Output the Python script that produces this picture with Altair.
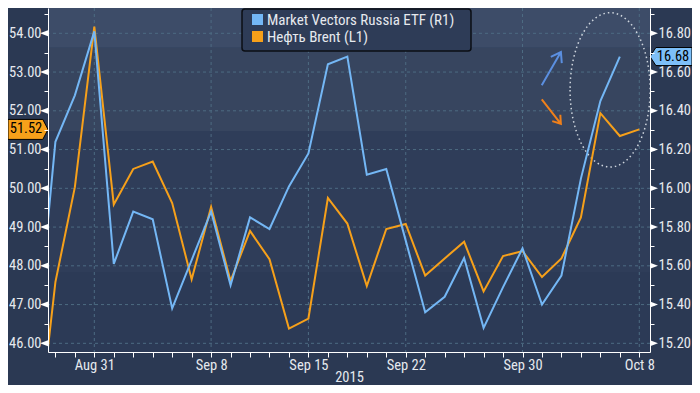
import altair as alt
import pandas as pd

# ---------------- data ----------------
dates = ["Aug 26", "Aug 27", "Aug 28", "Aug 31", "Sep 1", "Sep 2", "Sep 3", "Sep 4",
         "Sep 7", "Sep 8", "Sep 9", "Sep 10", "Sep 11", "Sep 14", "Sep 15", "Sep 16",
         "Sep 17", "Sep 18", "Sep 21", "Sep 22", "Sep 23", "Sep 24", "Sep 25", "Sep 28",
         "Sep 29", "Sep 30", "Oct 1", "Oct 2", "Oct 5", "Oct 6", "Oct 7", "Oct 8"]
brent = [43.14, 47.58, 50.03, 54.17, 49.58, 50.50, 50.69, 49.62, 47.65, 49.52, 47.61,
         48.90, 48.17, 46.38, 46.64, 49.75, 49.09, 47.48, 48.95, 49.08, 47.75, 48.19,
         48.62, 47.34, 48.25, 48.38, 47.71, 48.19, 49.25, 51.94, 51.35, 51.52]
rsx = [15.18, 16.24, 16.48, 16.81, 15.61, 15.88, 15.84, 15.38, 15.63, 15.88, 15.50,
       15.85, 15.79, 16.01, 16.18, 16.64, 16.68, 16.07, 16.10, 15.73, 15.36, 15.44,
       15.64, 15.28, 15.49, 15.69, 15.40, 15.55, 16.05, 16.45, 16.68, None]
series_names = ["Market Vectors Russia ETF (R1)", "Нефть Brent (L1)"]
x_labels = ["Aug 31", "Sep 8", "Sep 15", "Sep 22", "Sep 30", "Oct 8"]
year_title = "2015"
left_ticks = [46, 47, 48, 49, 50, 51, 52, 53, 54]
left_minor = [46.5, 47.5, 48.5, 49.5, 50.5, 51.5, 52.5, 53.5, 54.5]
right_ticks = [15.2, 15.4, 15.6, 15.8, 16.0, 16.2, 16.4, 16.6, 16.8]
right_minor = [15.3, 15.5, 15.7, 15.9, 16.1, 16.3, 16.5, 16.7, 16.9]
band_lo = [53.63, 51.48, 47.82, 45.776]
band_hi = [54.653, 53.63, 51.48, 47.82]
band_col = ["#3d4c68", "#37455f", "#2f3d59", "#2c3a56"]

# ---------------- layout / style ----------------
W, H = 602, 344
PAD_L, PAD_R, PAD_B = 40, 42, 33
L_DOM = [45.776, 54.653]
R_DOM = [15.2 + (v - 46) / 5 for v in L_DOM]
X_DOM = [0.62, 31.55]
FONT = "Liberation Sans Narrow, Roboto Condensed, Liberation Sans, sans-serif"
FS_Y = 14.5
FS_X = 14.5
FS_LEG = 15
BG = "#2b3953"
TXT = "#e6e9ee"
BLUE = "#74b7f5"
ORANGE = "#f6a01a"
GRID = "#4d6b82"

idx = list(range(len(dates)))
df = pd.DataFrame({"i": idx, "date": dates, "brent": brent, "rsx": rsx})
df_rsx = df.dropna(subset=["rsx"])
lab_idx = [dates.index(d) for d in x_labels]

xs = alt.Scale(domain=X_DOM, nice=False, zero=False)
ls = alt.Scale(domain=L_DOM, nice=False, zero=False)
rs = alt.Scale(domain=R_DOM, nice=False, zero=False)

lab_expr = " : ".join(f"datum.value == {i} ? '{t}'" for i, t in zip(lab_idx, x_labels)) + " : ''"

x_axis = alt.Axis(values=idx[1:], labelExpr=lab_expr, tickSize=5, tickColor="#ffffff",
                  domainColor="#ffffff", labelColor=TXT, labelFont=FONT, labelFontSize=FS_X,
                  labelPadding=1, labelOverlap=False, labelFlush=False, grid=False,
                  title=year_title, titleColor=TXT, titleFont=FONT, titleFontSize=FS_X,
                  titleFontWeight="normal", titlePadding=-1, zindex=1, orient="bottom")
l_axis = alt.Axis(values=sorted(left_ticks + left_minor),
                  labelExpr="datum.value % 1 == 0 ? format(datum.value, '.2f') : ''",
                  tickSize=4, tickColor="#ffffff", domainColor="#ffffff", labelColor=TXT,
                  labelFont=FONT, labelFontSize=FS_Y, labelPadding=3, grid=False, title=None,
                  labelOverlap=False, zindex=1, orient="left")
r_axis = alt.Axis(values=sorted(right_ticks + right_minor), orient="right",
                  labelExpr="round(datum.value * 10) % 2 == 0 ? format(datum.value, '.2f') : ''",
                  tickSize=4, tickColor="#ffffff", domainColor="#ffffff", labelColor=TXT,
                  labelFont=FONT, labelFontSize=FS_Y, labelPadding=4, grid=False, title=None,
                  labelOverlap=False, zindex=1)

one = pd.DataFrame({"a": [0]})


def xq(field):
    return alt.X(field, scale=xs, axis=x_axis)


# ---------------- left-scale layers ----------------
bands = alt.Chart(pd.DataFrame({"lo": band_lo, "hi": band_hi, "c": band_col})).mark_rect().encode(
    x=alt.value(0), x2=alt.value(W),
    y=alt.Y("hi:Q", scale=ls, axis=None), y2="lo:Q",
    color=alt.Color("c:N", scale=None))

hgrid = alt.Chart(pd.DataFrame({"v": left_ticks})).mark_rule(
    color=GRID, strokeDash=[3, 3], strokeWidth=1).encode(
    y=alt.Y("v:Q", scale=ls, axis=None))

vgrid = alt.Chart(pd.DataFrame({"v": lab_idx})).mark_rule(
    color=GRID, strokeDash=[3, 3], strokeWidth=1).encode(x=xq("v:Q"))

ellipse = alt.Chart(pd.DataFrame({"x": [29.5], "y": [52.54]})).mark_point(
    shape="M-0.519,0 A0.519,1 0 1,0 0.519,0 A0.519,1 0 1,0 -0.519,0 Z",
    size=23800, filled=False, stroke="#cfd6de", strokeWidth=1.5, strokeDash=[1.5, 3],
    opacity=1).encode(x=xq("x:Q"), y=alt.Y("y:Q", scale=ls, axis=None))

arrow_shape = "M0,1 L0,-1 M-0.33,-0.52 L0,-1 L0.33,-0.52"
arrow_up = alt.Chart(pd.DataFrame({"x": [26.48], "y": [53.09]})).mark_point(
    shape=arrow_shape, size=1467, angle=30, filled=False, stroke="#5b8fe0",
    strokeWidth=2, opacity=1).encode(x=xq("x:Q"), y=alt.Y("y:Q", scale=ls, axis=None))
arrow_dn = alt.Chart(pd.DataFrame({"x": [26.48], "y": [51.98]})).mark_point(
    shape=arrow_shape, size=961, angle=142, filled=False, stroke="#f0801a",
    strokeWidth=2, opacity=1).encode(x=xq("x:Q"), y=alt.Y("y:Q", scale=ls, axis=None))

orange_line = alt.Chart(df).mark_line(color=ORANGE, strokeWidth=2, clip=True).encode(
    x=xq("i:Q"), y=alt.Y("brent:Q", scale=ls, axis=l_axis))

l_tri = alt.Chart(pd.DataFrame({"v": left_ticks})).mark_point(
    shape="M-1,0 L1,-0.75 L1,0.75 Z", size=64, filled=True, fill="#ffffff",
    strokeWidth=0, opacity=1).encode(
    x=alt.value(-4), y=alt.Y("v:Q", scale=ls, axis=None))

l_last = pd.DataFrame({"v": [brent[-1]]})
l_badge = alt.Chart(l_last).mark_point(
    shape="M-1,-0.5 L0.74,-0.5 L1,0 L0.74,0.5 L-1,0.5 Z", size=1600,
    filled=True, fill=ORANGE, stroke="#000000", strokeWidth=1, opacity=1).encode(
    x=alt.value(-20), y=alt.Y("v:Q", scale=ls, axis=None))
l_badge_t = alt.Chart(l_last).mark_text(
    font=FONT, fontSize=14.5, color="#000000", align="center", baseline="middle").encode(
    x=alt.value(-22), y=alt.Y("v:Q", scale=ls, axis=None),
    text=alt.Text("v:Q", format=".2f"))

# ---------------- right-scale layers ----------------
blue_line = alt.Chart(df_rsx).mark_line(color=BLUE, strokeWidth=2, clip=True).encode(
    x=xq("i:Q"), y=alt.Y("rsx:Q", scale=rs, axis=r_axis))

r_tri = alt.Chart(pd.DataFrame({"v": right_ticks})).mark_point(
    shape="M1,0 L-1,-0.75 L-1,0.75 Z", size=64, filled=True, fill="#ffffff",
    strokeWidth=0, opacity=1).encode(
    x=alt.value(W + 4), y=alt.Y("v:Q", scale=rs, axis=None))

r_last = pd.DataFrame({"v": [df_rsx["rsx"].iloc[-1]]})
r_badge = alt.Chart(r_last).mark_point(
    shape="M-1,0 L-0.72,-0.43 L1,-0.43 L1,0.43 L-0.72,0.43 Z", size=1764,
    filled=True, fill="#7dbff8", stroke="#000000", strokeWidth=1, opacity=1).encode(
    x=alt.value(W + 21), y=alt.Y("v:Q", scale=rs, axis=None))
r_badge_t = alt.Chart(r_last).mark_text(
    font=FONT, fontSize=14.5, color="#000000", align="center", baseline="middle").encode(
    x=alt.value(W + 23), y=alt.Y("v:Q", scale=rs, axis=None),
    text=alt.Text("v:Q", format=".2f"))

# ---------------- legend ----------------
leg_box = alt.Chart(one).mark_rect(
    fill="#2e3c57", stroke="#0b0e14", strokeWidth=1.5, cornerRadius=3).encode(
    x=alt.value(194), x2=alt.value(423), y=alt.value(1), y2=alt.value(43))
leg_sq1 = alt.Chart(one).mark_rect(fill=BLUE).encode(
    x=alt.value(204), x2=alt.value(215), y=alt.value(6), y2=alt.value(17))
leg_sq2 = alt.Chart(one).mark_rect(fill=ORANGE).encode(
    x=alt.value(204), x2=alt.value(215), y=alt.value(23), y2=alt.value(34))
leg_t1 = alt.Chart(one).mark_text(
    font=FONT, fontSize=FS_LEG, color=TXT, align="left", baseline="middle").encode(
    x=alt.value(219), y=alt.value(12), text=alt.value(series_names[0]))
leg_t2 = alt.Chart(one).mark_text(
    font=FONT, fontSize=FS_LEG, color=TXT, align="left", baseline="middle").encode(
    x=alt.value(219), y=alt.value(29), text=alt.value(series_names[1]))

chart = alt.layer(
    bands, hgrid, vgrid, ellipse, arrow_up, arrow_dn, orange_line, blue_line,
    l_tri, l_badge, l_badge_t, r_tri, r_badge, r_badge_t,
    leg_box, leg_sq1, leg_sq2, leg_t1, leg_t2,
).resolve_scale(y="independent").properties(
    width=W, height=H, background=BG,
    autosize=alt.AutoSizeParams(type="none"),
    padding={"left": PAD_L, "top": 0, "right": PAD_R, "bottom": PAD_B},
).configure_view(stroke=None)

chart.save("out.html", embed_options={"renderer": "svg", "actions": False})
